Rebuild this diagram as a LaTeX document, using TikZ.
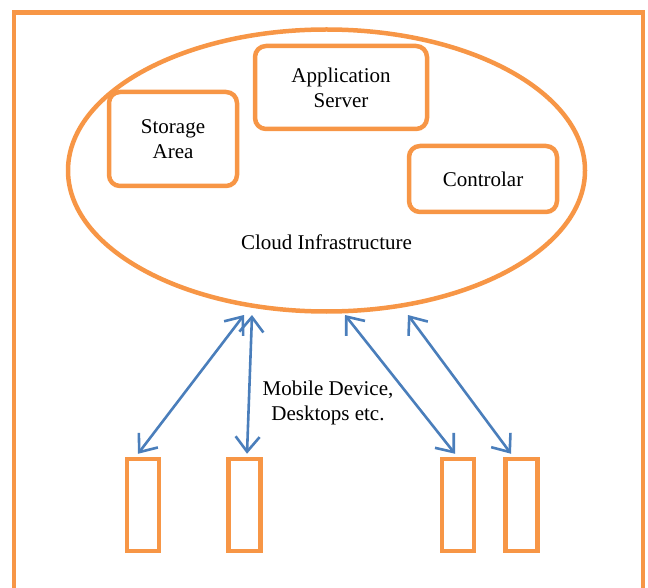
\documentclass[tikz,border=0pt]{standalone}
\usepackage{fontspec}
\newfontfamily\tms{Liberation Serif}
\usetikzlibrary{shapes.geometric,arrows.meta}
\definecolor{orng}{HTML}{F79646}
\definecolor{blu}{HTML}{4A7EBB}
\begin{document}
\begin{tikzpicture}[x=1pt,y=-1pt,
  txt/.style={font=\tms\fontsize{21}{25}\selectfont, align=center},
  rbox/.style={draw=orng, line width=4.5pt, rounded corners=11pt, inner sep=0pt, txt},
  dev/.style={draw=orng, line width=4.5pt, inner sep=0pt, minimum width=32pt, minimum height=92pt},
  tip/.style={Straight Barb[length=15pt,width=24pt,line width=2.6pt]},
  link/.style={draw=blu, line width=2.6pt, {Straight Barb[length=15pt,width=24pt,line width=2.6pt]}-{Straight Barb[length=15pt,width=24pt,line width=2.6pt]}}
]
\useasboundingbox (0,0) rectangle (648,588);
\clip (0,0) rectangle (648,588);
% outer frame
\draw[orng, line width=4.5pt] (14,12.5) rectangle (643,620);
% cloud
\node[draw=orng, line width=4.5pt, ellipse, minimum width=517pt, minimum height=282pt, inner sep=0pt] (cloud) at (326.5,170.5) {};
\node[rbox, minimum width=128pt, minimum height=94pt] (storage) at (173,139) {Storage\\Area};
\node[rbox, minimum width=172pt, minimum height=83pt] (app) at (341,87.5) {Application\\Server};
\node[rbox, minimum width=148pt, minimum height=66pt] (ctrl) at (483,179) {Controlar};
\node[txt] (cloudlbl) at (326.5,242) {Cloud Infrastructure};
% devices
\node[dev] (d1) at (143,505) {};
\node[dev] (d2) at (244.5,505) {};
\node[dev] (d3) at (458,505) {};
\node[dev] (d4) at (521.5,505) {};
\node[txt] (devlbl) at (328,403) {Mobile Device,\\Desktops etc.};
% arrow top ends
\coordinate (c1) at (244,315);
\coordinate (c2) at (252,315);
\coordinate (c3) at (345,315);
\coordinate (c4) at (408,315);
\draw[link] (c1) -- ([xshift=-5pt,yshift=3pt]d1.north);
\draw[link] (c2) -- ([xshift=2.5pt,yshift=3pt]d2.north);
\draw[link] (c3) -- ([xshift=-3pt,yshift=3pt]d3.north);
\draw[link] (c4) -- ([xshift=-10.5pt,yshift=3pt]d4.north);
\end{tikzpicture}
\end{document}
